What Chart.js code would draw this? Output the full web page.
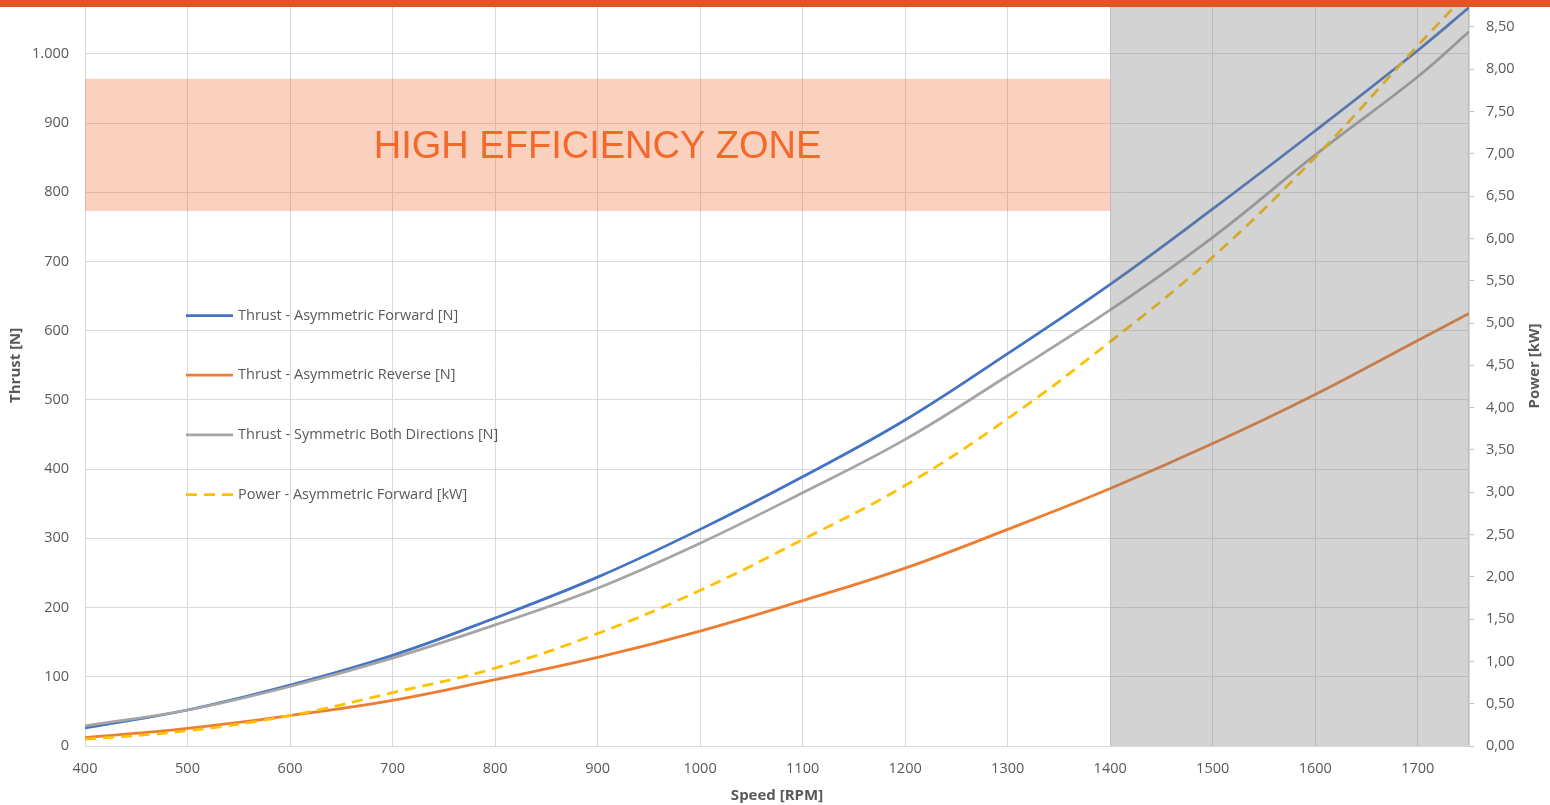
<!DOCTYPE html>
<html><head><meta charset="utf-8">
<script src="https://cdn.jsdelivr.net/npm/chart.js@4.4.1/dist/chart.umd.min.js"></script>
<style>
html,body{margin:0;padding:0;background:#fff;overflow:hidden;width:1550px;height:805px;}
#wrap{position:absolute;left:0;top:-40px;width:1550px;height:845px;}
#bar{position:absolute;left:0;top:0;width:1550px;height:7px;background:#E25422;z-index:2;}
</style></head><body>
<div id="wrap"><canvas id="c"></canvas></div>
<div id="bar"></div>
<script>
// ---- data ----
const speedRpm        = [400, 500, 600, 700, 800, 900, 1000, 1100, 1200, 1300, 1400, 1500, 1600, 1700, 1750];
const thrustForward   = [26, 52, 88, 131, 185, 244, 313, 389, 471, 567, 667, 776, 889, 1005, 1067];
const thrustReverse   = [12, 25.5, 44, 66, 96, 128, 166, 210, 257, 313, 372, 437, 508, 586, 625];
const thrustSymmetric = [29, 52, 86, 127, 175, 228, 293, 366, 443, 535, 630, 735, 854, 967, 1032];
const powerForward    = [0.08, 0.18, 0.36, 0.63, 0.92, 1.33, 1.84, 2.44, 3.08, 3.87, 4.78, 5.78, 6.96, 8.28, 8.92];

const seriesNames = [
  'Thrust - Asymmetric Forward [N]',
  'Thrust - Asymmetric Reverse [N]',
  'Thrust - Symmetric Both Directions [N]',
  'Power - Asymmetric Forward [kW]'
];

const xTickValues      = [400, 500, 600, 700, 800, 900, 1000, 1100, 1200, 1300, 1400, 1500, 1600, 1700];
const thrustTickValues = [0, 100, 200, 300, 400, 500, 600, 700, 800, 900, 1000, 1100];
const powerTickValues  = [0, 0.5, 1, 1.5, 2, 2.5, 3, 3.5, 4, 4.5, 5, 5.5, 6, 6.5, 7, 7.5, 8, 8.5, 9];

const zoneLabel  = 'HIGH EFFICIENCY ZONE';
const zoneRpm    = [400, 1400];
const zoneThrust = [773, 964];
const shadeRpm   = [1400, 1750];

const xTitle = 'Speed [RPM]';
const yTitle = 'Thrust [N]';
const y2Title = 'Power [kW]';

// ---- helpers ----
const OFFSET = 40; // canvas y = page y + OFFSET
const TXT = '#595959';
const GRID = '#D9D9D9';
const FONT = '"Open Sans", "DejaVu Sans", sans-serif';
const fmtThousands = v => String(v).replace(/\B(?=(\d{3})+(?!\d))/g, '.');
const fmtComma = v => Number(v).toFixed(2).replace('.', ',');
const pts = arr => speedRpm.map((r, i) => ({x: r, y: arr[i]}));

const overlayPlugin = {
  id: 'overlays',
  beforeDatasetsDraw(chart) {
    const {ctx, scales: {x, y}} = chart;
    const x0 = x.getPixelForValue(zoneRpm[0]), x1 = x.getPixelForValue(zoneRpm[1]);
    const y0 = y.getPixelForValue(zoneThrust[1]), y1 = y.getPixelForValue(zoneThrust[0]);
    ctx.save();
    ctx.fillStyle = 'rgba(237,100,40,0.3)';
    ctx.fillRect(x0, y0, x1 - x0, y1 - y0);
    ctx.font = '38px "Liberation Sans", Arial, sans-serif';
    ctx.fillStyle = '#F4692A';
    ctx.textAlign = 'center';
    ctx.textBaseline = 'middle';
    ctx.fillText(zoneLabel, (x0 + x1) / 2, (y0 + y1) / 2 + 3);
    ctx.restore();
  },
  afterDatasetsDraw(chart) {
    const {ctx, chartArea, scales: {x}} = chart;
    const sx0 = x.getPixelForValue(shadeRpm[0]), sx1 = x.getPixelForValue(shadeRpm[1]);
    ctx.save();
    ctx.fillStyle = 'rgba(126,126,126,0.34)';
    ctx.fillRect(sx0, chartArea.top, sx1 - sx0, chartArea.bottom - chartArea.top);

    // legend
    const lx = 186, ly0 = 315.5 + OFFSET, step = 59.7;
    chart.data.datasets.forEach((ds, i) => {
      const yy = ly0 + i * step;
      ctx.beginPath();
      ctx.strokeStyle = ds.borderColor;
      ctx.lineWidth = 2.75;
      ctx.setLineDash(ds.borderDash || []);
      ctx.moveTo(lx, yy); ctx.lineTo(lx + 47, yy);
      ctx.stroke();
      ctx.setLineDash([]);
      ctx.font = '14.5px ' + FONT;
      ctx.fillStyle = TXT;
      ctx.textAlign = 'left';
      ctx.textBaseline = 'middle';
      ctx.fillText(ds.label, lx + 52, yy);
    });

    // right axis title, reading upward
    ctx.translate(1535, 366 + OFFSET);
    ctx.rotate(-Math.PI / 2);
    ctx.font = 'bold 15px ' + FONT;
    ctx.fillStyle = TXT;
    ctx.textAlign = 'center';
    ctx.textBaseline = 'middle';
    ctx.fillText(y2Title, 0, 0);
    ctx.restore();
  }
};

new Chart(document.getElementById('c'), {
  type: 'line',
  data: {
    datasets: [
      {label: seriesNames[0], data: pts(thrustForward), borderColor: '#4472C4', yAxisID: 'y', order: 3},
      {label: seriesNames[1], data: pts(thrustReverse), borderColor: '#ED7D31', yAxisID: 'y', order: 2},
      {label: seriesNames[2], data: pts(thrustSymmetric), borderColor: '#A5A5A5', yAxisID: 'y', order: 1},
      {label: seriesNames[3], data: pts(powerForward), borderColor: '#FFC000', borderDash: [11, 7], yAxisID: 'y2', order: 0}
    ]
  },
  options: {
    responsive: true,
    maintainAspectRatio: false,
    animation: false,
    layout: {padding: {top: 14, left: 0, right: 0, bottom: 0}},
    elements: {
      point: {radius: 0, hoverRadius: 0},
      line: {borderWidth: 2.75, tension: 0.4, fill: false}
    },
    plugins: {legend: {display: false}, tooltip: {enabled: false}},
    scales: {
      x: {
        type: 'linear', position: 'bottom', min: 400, max: 1750,
        afterBuildTicks: s => { s.ticks = xTickValues.map(v => ({value: v})); },
        afterFit: s => { s.height = 59; },
        grid: {color: GRID, lineWidth: 1, drawTicks: false},
        border: {color: GRID, width: 1},
        ticks: {color: TXT, font: {family: FONT, size: 14.5}, padding: 14, maxRotation: 0, autoSkip: false,
                callback: v => String(v)},
        title: {display: true, text: xTitle, color: TXT, font: {family: FONT, size: 15, weight: 'bold'}, padding: {top: 0, bottom: 0}}
      },
      y: {
        type: 'linear', position: 'left', min: 0, max: 1100,
        afterBuildTicks: s => { s.ticks = thrustTickValues.map(v => ({value: v})); },
        afterFit: s => { s.width = 85; },
        grid: {color: GRID, lineWidth: 1, drawTicks: false},
        border: {color: GRID, width: 1},
        ticks: {color: TXT, font: {family: FONT, size: 14.5}, padding: 16, callback: v => fmtThousands(v)},
        title: {display: true, text: yTitle, color: TXT, font: {family: FONT, size: 15, weight: 'bold'}, padding: {top: 7, bottom: 0}}
      },
      y2: {
        type: 'linear', position: 'right', min: 0, max: 9,
        afterBuildTicks: s => { s.ticks = powerTickValues.map(v => ({value: v})); },
        afterFit: s => { s.width = 81; },
        grid: {drawOnChartArea: false, color: '#BFBFBF', tickLength: 5, drawTicks: true},
        border: {color: GRID, width: 2},
        ticks: {color: TXT, font: {family: FONT, size: 14.5}, padding: 12, callback: v => fmtComma(v)}
      }
    }
  },
  plugins: [overlayPlugin]
});
</script>
</body></html>
